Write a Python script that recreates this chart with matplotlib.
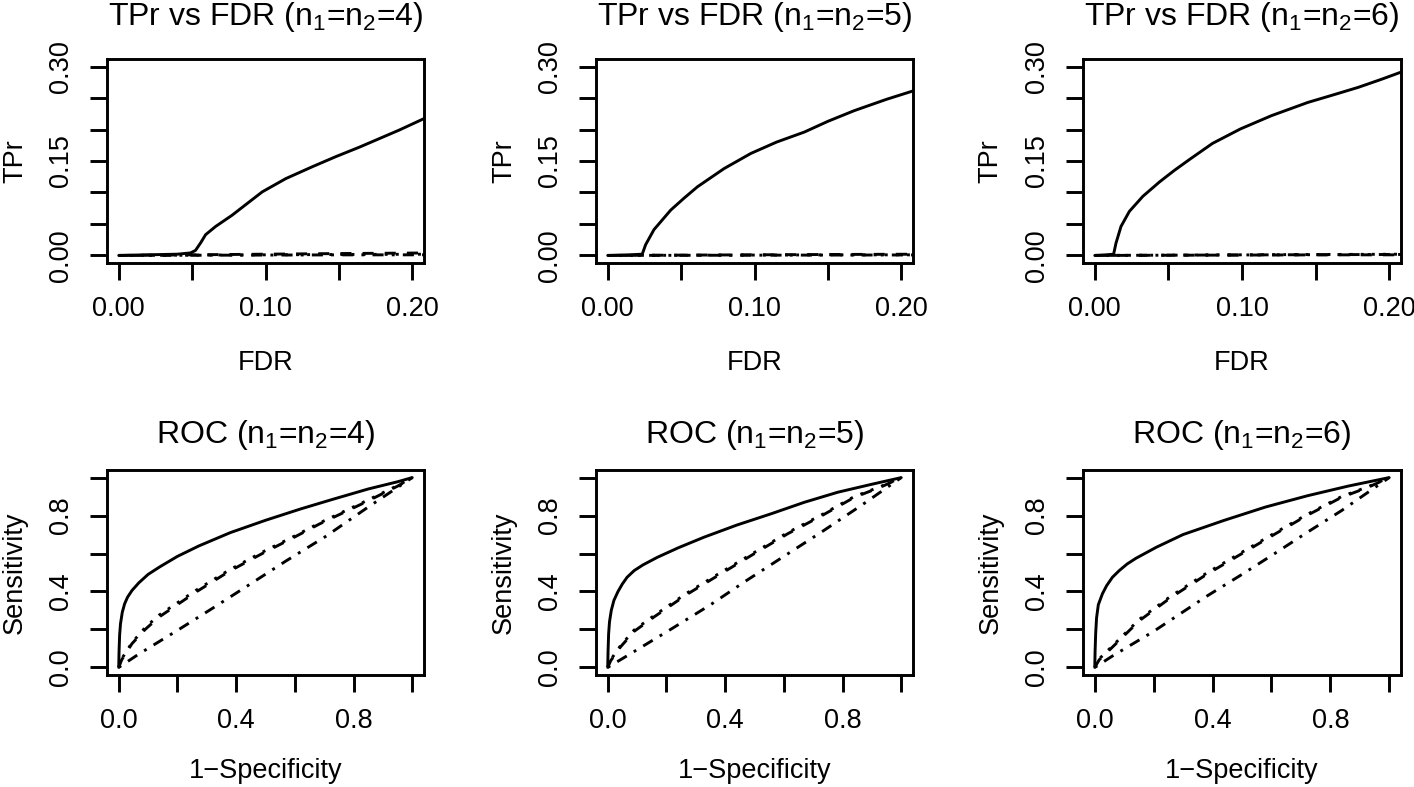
import matplotlib
matplotlib.use("Agg")
import matplotlib.pyplot as plt

plt.rcParams['font.family'] = ['Liberation Sans', 'DejaVu Sans']
plt.rcParams['mathtext.fontset'] = 'custom'
plt.rcParams['mathtext.rm'] = 'Liberation Sans'
plt.rcParams['mathtext.it'] = 'Liberation Sans'

# sample sizes per column
sizes = [4, 5, 6]

# ---- TPr vs FDR data (solid = main method) ----
fdr_solid = [
    [0, 0.02, 0.040, 0.0489, 0.0523, 0.0558, 0.0592, 0.066, 0.0773, 0.0878, 0.0978, 0.1138,
     0.132, 0.148, 0.164, 0.191, 0.2077, 0.215],
    [0, 0.015, 0.0235, 0.0258, 0.0315, 0.0429, 0.052, 0.0611, 0.0793, 0.0975, 0.115,
     0.134, 0.150, 0.168, 0.19, 0.209, 0.215],
    [0, 0.008, 0.0128, 0.0144, 0.0178, 0.0235, 0.0327, 0.0441, 0.054, 0.0647, 0.080,
     0.099, 0.120, 0.1447, 0.162, 0.179, 0.195, 0.209, 0.215],
]
tpr_solid = [
    [0, 0.001, 0.002, 0.004, 0.008, 0.020, 0.033, 0.046, 0.064, 0.083, 0.101, 0.122,
     0.141, 0.157, 0.172, 0.199, 0.217, 0.224],
    [0, 0.001, 0.002, 0.017, 0.041, 0.072, 0.091, 0.109, 0.138, 0.162, 0.180,
     0.196, 0.213, 0.230, 0.248, 0.262, 0.266],
    [0, 0.001, 0.002, 0.0195, 0.046, 0.070, 0.094, 0.117, 0.135, 0.153, 0.178,
     0.201, 0.222, 0.243, 0.255, 0.267, 0.280, 0.292, 0.296],
]
# near-zero competing methods
fdr_flat = [0, 0.05, 0.10, 0.15, 0.215]
tpr_dashed = [[0, 0.001, 0.002, 0.003, 0.004],
              [0, 0.0005, 0.001, 0.0015, 0.002],
              [0, 0.0003, 0.0006, 0.0009, 0.001]]
tpr_dotted = [[0, 0.0005, 0.001, 0.0015, 0.002],
              [0, 0.0003, 0.0006, 0.0009, 0.001],
              [0, 0.0005, 0.001, 0.0015, 0.002]]
tpr_dotdash = [[0, 0.0003, 0.0006, 0.0009, 0.001],
               [0, 0.0002, 0.0004, 0.0006, 0.0008],
               [0, 0.0004, 0.0008, 0.0012, 0.0016]]

# ---- ROC data ----
roc_fpr_solid = [
    [0, 0.001, 0.003, 0.006, 0.012, 0.02, 0.03, 0.045, 0.068, 0.10, 0.14, 0.2, 0.273,
     0.38, 0.5, 0.62, 0.728, 0.85, 0.95, 1.0],
    [0, 0.001, 0.003, 0.006, 0.012, 0.021, 0.035, 0.05, 0.066, 0.09, 0.12, 0.169, 0.24,
     0.328, 0.44, 0.556, 0.67, 0.784, 0.9, 1.0],
    [0, 0.001, 0.003, 0.006, 0.012, 0.026, 0.04, 0.06, 0.083, 0.11, 0.14, 0.209, 0.3,
     0.438, 0.58, 0.724, 0.86, 1.0],
]
roc_tpr_solid = [
    [0, 0.08, 0.17, 0.23, 0.29, 0.335, 0.37, 0.405, 0.445, 0.49, 0.53, 0.585, 0.64,
     0.71, 0.775, 0.835, 0.885, 0.94, 0.978, 1.0],
    [0, 0.08, 0.177, 0.24, 0.30, 0.353, 0.40, 0.44, 0.475, 0.51, 0.54, 0.58, 0.63,
     0.686, 0.75, 0.809, 0.87, 0.923, 0.965, 1.0],
    [0, 0.08, 0.177, 0.26, 0.33, 0.388, 0.43, 0.475, 0.51, 0.545, 0.575, 0.633, 0.70,
     0.774, 0.845, 0.905, 0.955, 1.0],
]
roc_fpr_dashed = [
    [0, 0.01, 0.045, 0.09, 0.137, 0.262, 0.375, 0.489, 0.603, 0.683, 0.84, 0.95, 1.0],
    [0, 0.01, 0.043, 0.09, 0.157, 0.27, 0.385, 0.5, 0.613, 0.73, 0.84, 0.93, 1.0],
    [0, 0.015, 0.06, 0.152, 0.26, 0.38, 0.5, 0.609, 0.72, 0.838, 0.93, 1.0],
]
roc_tpr_dashed = [
    [0, 0.04, 0.125, 0.20, 0.265, 0.396, 0.505, 0.60, 0.69, 0.755, 0.87, 0.955, 1.0],
    [0, 0.035, 0.107, 0.19, 0.265, 0.385, 0.493, 0.60, 0.704, 0.80, 0.896, 0.95, 1.0],
    [0, 0.04, 0.107, 0.247, 0.37, 0.49, 0.60, 0.70, 0.80, 0.896, 0.95, 1.0],
]
roc_tpr_dotted = [
    [0, 0.045, 0.13, 0.21, 0.275, 0.405, 0.512, 0.607, 0.695, 0.76, 0.875, 0.958, 1.0],
    [0, 0.04, 0.113, 0.197, 0.272, 0.392, 0.50, 0.606, 0.71, 0.805, 0.90, 0.953, 1.0],
    [0, 0.045, 0.113, 0.254, 0.377, 0.497, 0.607, 0.706, 0.805, 0.90, 0.953, 1.0],
]
roc_fpr_dotdash = [
    [0, 0.068, 0.205, 0.318, 0.444, 0.569, 0.705, 0.85, 1.0],
    [0, 0.07, 0.214, 0.35, 0.47, 0.6, 0.73, 0.87, 1.0],
    [0, 0.06, 0.2, 0.38, 0.5, 0.609, 0.72, 0.838, 1.0],
]
roc_tpr_dotdash = [
    [0, 0.07, 0.2, 0.31, 0.435, 0.56, 0.69, 0.845, 1.0],
    [0, 0.065, 0.2, 0.33, 0.455, 0.585, 0.715, 0.86, 1.0],
    [0, 0.06, 0.19, 0.375, 0.49, 0.598, 0.71, 0.826, 1.0],
]

# R-like line types, in units of linewidth
LW = 2.1
DASHED = (0, (3.8, 3.8))
DOTTED = (0, (1.0, 2.8))
DOTDASH = (0, (1.0, 2.8, 3.8, 2.8))
FS = 19.5
TFS = 23

W, H = 1414, 787
fig = plt.figure(figsize=(W / 100, H / 100), dpi=100)

col_left = [107, 596, 1083]
col_right = [424, 913, 1401]
row_top = [59, 470]
row_bot = [263, 675]


def make_axes(c, r):
    l, rr = col_left[c], col_right[c]
    t, b = row_top[r], row_bot[r]
    ax = fig.add_axes([l / W, 1 - b / H, (rr - l) / W, (b - t) / H])
    for s in ax.spines.values():
        s.set_linewidth(LW)
    ax.tick_params(direction='out', length=12, width=LW, labelsize=FS, pad=12)
    return ax


def style_ticks(ax, xt, xl, yt, yl):
    ax.set_xticks(xt)
    ax.set_xticklabels(xl)
    ax.set_yticks(yt)
    ax.set_yticklabels(yl, va='center', rotation=90)


for c, n in enumerate(sizes):
    # top row: TPr vs FDR
    ax = make_axes(c, 0)
    ax.plot(fdr_flat, tpr_dotdash[c], color='black', lw=LW, linestyle=DOTDASH)
    ax.plot(fdr_flat, tpr_dotted[c], color='black', lw=LW, linestyle=DOTTED)
    ax.plot(fdr_flat, tpr_dashed[c], color='black', lw=LW, linestyle=DASHED)
    ax.plot(fdr_solid[c], tpr_solid[c], color='black', lw=LW, solid_capstyle='round',
            solid_joinstyle='round')
    ax.set_xlim(-0.008, 0.208)
    ax.set_ylim(-0.012, 0.312)
    style_ticks(ax, [0, 0.05, 0.10, 0.15, 0.20], ['0.00', '', '0.10', '', '0.20'],
                [0, 0.05, 0.10, 0.15, 0.20, 0.25, 0.30],
                ['0.00', '', '', '0.15', '', '', '0.30'])
    ax.set_xlabel('FDR', fontsize=FS)
    ax.set_ylabel('TPr', fontsize=FS)
    ax.xaxis.set_label_coords(0.5, -100 / 204)
    ax.xaxis.label.set_va('center')
    ax.yaxis.set_label_coords(-0.29, 0.5)
    ax.yaxis.label.set_va('center')
    ax.text(0.5, 1 + 34 / 204, 'TPr vs FDR (n$_{1}$=n$_{2}$=%d)' % n,
            transform=ax.transAxes, ha='center', va='baseline', fontsize=TFS)

    # bottom row: ROC
    ax = make_axes(c, 1)
    ax.plot(roc_fpr_dotdash[c], roc_tpr_dotdash[c], color='black', lw=LW, linestyle=DOTDASH)
    ax.plot(roc_fpr_dashed[c], roc_tpr_dotted[c], color='black', lw=LW, linestyle=DOTTED)
    ax.plot(roc_fpr_dashed[c], roc_tpr_dashed[c], color='black', lw=LW, linestyle=DASHED)
    ax.plot(roc_fpr_solid[c], roc_tpr_solid[c], color='black', lw=LW, solid_capstyle='round',
            solid_joinstyle='round')
    ax.set_xlim(-0.04, 1.04)
    ax.set_ylim(-0.04, 1.04)
    style_ticks(ax, [0, 0.2, 0.4, 0.6, 0.8, 1.0], ['0.0', '', '0.4', '', '0.8', ''],
                [0, 0.2, 0.4, 0.6, 0.8, 1.0], ['0.0', '', '0.4', '', '0.8', ''])
    ax.set_xlabel('1\u2212Specificity', fontsize=FS)
    ax.set_ylabel('Sensitivity', fontsize=FS)
    ax.xaxis.set_label_coords(0.5, -96 / 205)
    ax.xaxis.label.set_va('center')
    ax.yaxis.set_label_coords(-0.29, 0.5)
    ax.yaxis.label.set_va('center')
    ax.text(0.5, 1 + 27 / 205, 'ROC (n$_{1}$=n$_{2}$=%d)' % n,
            transform=ax.transAxes, ha='center', va='baseline', fontsize=TFS)

fig.savefig('out.png', dpi=100)
